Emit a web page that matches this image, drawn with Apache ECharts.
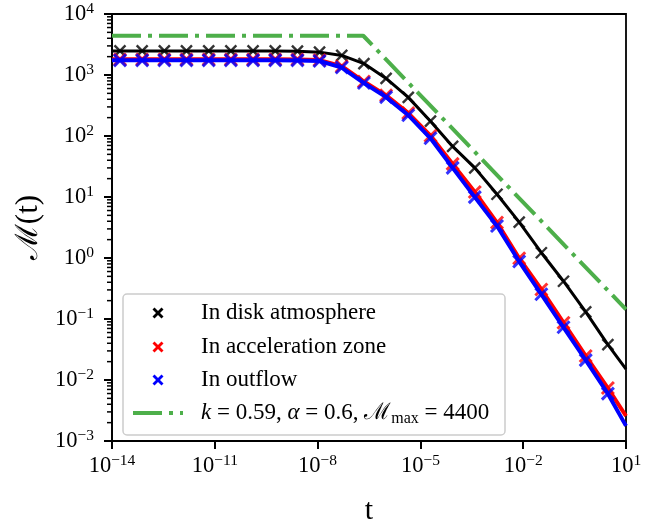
<!DOCTYPE html>
<html>
<head>
<meta charset="utf-8">
<script src="https://cdn.jsdelivr.net/npm/echarts@6/dist/echarts.min.js"></script>
<style>
html,body{margin:0;padding:0;background:#fff;}
#chart{width:660px;height:531px;}
</style>
</head>
<body>
<div id="chart"></div>
<script>
// ---- data ----
const tMarks = [1.71e-14, 7.59e-14, 3.37e-13, 1.49e-12, 6.64e-12, 2.94e-11, 1.31e-10, 5.80e-10,
  2.58e-9, 1.14e-8, 5.07e-8, 2.25e-7, 9.98e-7, 4.43e-6, 1.97e-5, 8.73e-5, 3.87e-4, 1.72e-3,
  7.64e-3, 3.39e-2, 0.150, 0.667, 2.96];
const tStart = 1e-14;
const tEnd = 10;

const diskMarks = [2480, 2480, 2480, 2480, 2480, 2480, 2480, 2480, 2460, 2370, 2094, 1538, 880,
  430, 175, 67.5, 30, 11.1, 3.88, 1.22, 0.416, 0.131, 0.038];
const diskStart = 2480, diskEnd = 0.0151;

const accMarks = [1804, 1804, 1804, 1804, 1804, 1804, 1804, 1804, 1800, 1758, 1391, 781, 464,
  237, 101, 34.9, 12.1, 3.81, 0.99, 0.305, 0.087, 0.0248, 0.00738];
const accStart = 1804, accEnd = 0.00257;

const outMarks = [1738, 1738, 1738, 1738, 1738, 1738, 1738, 1738, 1735, 1694, 1325, 738, 434,
  219, 91.8, 30, 9.95, 3.34, 0.875, 0.254, 0.0731, 0.0212, 0.00597];
const outStart = 1738, outEnd = 0.00177;

const modelT = [1e-14, 2.15e-7, 10];
const modelM = [4400, 4400, 0.144];

const seriesNames = ['In disk atmosphere', 'In acceleration zone', 'In outflow'];
const yDecades = [-3, -2, -1, 0, 1, 2, 3];
const minorMult = [2, 3, 4, 5, 6, 7, 8, 9];

// ---- helpers ----
const SERIF = '"Liberation Serif", "DejaVu Serif", serif';
function pairs(xs, ys) { return xs.map((x, i) => [x, ys[i]]); }
function lineData(start, marks, end) {
  return [[tStart, start]].concat(pairs(tMarks, marks)).concat([[tEnd, end]]);
}
function expLabel(v) {
  const e = Math.round(Math.log10(v));
  const s = e < 0 ? '\u2212' + Math.abs(e) : String(e);
  return '{b|10}{s|' + s + '}';
}
const richTick = {
  b: { fontFamily: SERIF, fontSize: 22.5, color: '#000', lineHeight: 26 },
  s: { fontFamily: SERIF, fontSize: 15.5, color: '#000', verticalAlign: 'top', lineHeight: 26, padding: [0, 0, 9, 0] }
};
const minorVals = [];
yDecades.forEach(d => minorMult.forEach(m => minorVals.push(m * Math.pow(10, d))));

const CROSS = 'path://M0,0L10,10M10,0L0,10';
const colors = ['#000000', '#ff0000', '#0000ff'];
const green = '#4daf4a';

const series = [];
const starts = [diskStart, accStart, outStart];
const ends = [diskEnd, accEnd, outEnd];
const marks = [diskMarks, accMarks, outMarks];
for (let k = 0; k < 3; k++) {
  series.push({
    type: 'line', name: seriesNames[k] + ' line', data: lineData(starts[k], marks[k], ends[k]),
    showSymbol: false, symbol: 'none', lineStyle: { color: colors[k], width: k === 0 ? 3 : 4 },
    z: 2 + 2 * k, animation: false, silent: true
  });
  series.push({
    type: 'scatter', name: seriesNames[k], data: pairs(tMarks, marks[k]),
    symbol: CROSS, symbolSize: k === 0 ? 11 : 12,
    itemStyle: { color: colors[k], borderColor: colors[k], borderWidth: k === 0 ? 2.4 : 3 },
    z: 3 + 2 * k, animation: false, silent: true
  });
}
series.push({
  type: 'line', name: 'model', data: pairs(modelT, modelM), symbol: 'none',
  lineStyle: { color: green, width: 4, type: [29, 7, 4, 7], cap: 'butt' }, z: 9, animation: false, silent: true
});

// legend (drawn with graphic elements)
const LX = 123, LY = 294, LW = 382, LH = 141;
const rowsY = [313, 347, 380, 413];
const FS = 23;
const legendEls = [{
  type: 'rect', shape: { x: LX, y: LY, width: LW, height: LH, r: 4 },
  style: { fill: 'rgba(255,255,255,0.85)', stroke: '#cccccc', lineWidth: 1.5 }, z: 100
}];
for (let k = 0; k < 3; k++) {
  const cx = 158, cy = rowsY[k], h = 4.5;
  legendEls.push({ type: 'line', shape: { x1: cx - h, y1: cy - h, x2: cx + h, y2: cy + h }, style: { stroke: colors[k], lineWidth: 2.8 }, z: 101 });
  legendEls.push({ type: 'line', shape: { x1: cx - h, y1: cy + h, x2: cx + h, y2: cy - h }, style: { stroke: colors[k], lineWidth: 2.8 }, z: 101 });
  legendEls.push({ type: 'text', x: 201, y: cy, style: { text: seriesNames[k], font: FS + 'px ' + SERIF, fill: '#000', verticalAlign: 'middle' }, z: 101 });
}
legendEls.push({ type: 'line', shape: { x1: 133, y1: rowsY[3], x2: 183, y2: rowsY[3] }, style: { stroke: green, lineWidth: 4, lineDash: [29, 7, 4, 7], lineCap: 'butt' }, z: 101 });
legendEls.push({
  type: 'text', x: 201, y: rowsY[3],
  style: {
    text: '{i|k} = 0.59, {i|\u03b1} = 0.6, {m|\u2133}{sub|max} = 4400',
    font: FS + 'px ' + SERIF, fill: '#000', verticalAlign: 'middle',
    rich: {
      i: { fontFamily: SERIF, fontSize: FS, fontStyle: 'italic', lineHeight: 28 },
      m: { fontFamily: SERIF, fontSize: FS, lineHeight: 28 },
      sub: { fontFamily: SERIF, fontSize: 16, verticalAlign: 'bottom', lineHeight: 28, padding: [7, 0, 0, 0] }
    }
  }, z: 101
});

const chart = echarts.init(document.getElementById('chart'), null, { renderer: 'canvas' });
chart.setOption({
  animation: false,
  backgroundColor: '#ffffff',
  grid: { left: 112, right: 34, top: 14, bottom: 84, show: true, borderColor: '#000', borderWidth: 1.8, backgroundColor: 'transparent' },
  xAxis: {
    type: 'log', logBase: 10, min: 1e-14, max: 10, interval: 3,
    name: 't', nameLocation: 'middle', nameGap: 55,
    nameTextStyle: { fontFamily: SERIF, fontSize: 30, color: '#000' },
    axisLine: { show: true, onZero: false, lineStyle: { color: '#000', width: 1.8 } },
    axisTick: { show: true, inside: false, length: 8, lineStyle: { color: '#000', width: 2 } },
    minorTick: { show: false },
    splitLine: { show: false },
    axisLabel: { margin: 12, formatter: expLabel, rich: richTick, showMinLabel: true, showMaxLabel: true, hideOverlap: false }
  },
  yAxis: {
    type: 'log', logBase: 10, min: 1e-3, max: 1e4, interval: 1,
    name: '\u2133(t)', nameLocation: 'middle', nameGap: 66, nameRotate: 90,
    nameTextStyle: { fontFamily: SERIF, fontSize: 31, color: '#000' },
    axisLine: { show: true, onZero: false, lineStyle: { color: '#000', width: 1.8 } },
    axisTick: { show: true, inside: false, length: 8, lineStyle: { color: '#000', width: 2 } },
    minorTick: { show: false },
    splitLine: { show: false },
    axisLabel: { margin: 18, formatter: expLabel, rich: richTick, showMinLabel: true, showMaxLabel: true, hideOverlap: false }
  },
  series: series,
  graphic: legendEls
});

// minor y ticks: positions obtained from the chart's own log scale
const minorEls = [];
minorVals.forEach(v => {
  const p = chart.convertToPixel({ xAxisIndex: 0, yAxisIndex: 0 }, [tStart, v]);
  if (p && isFinite(p[0]) && isFinite(p[1])) {
    minorEls.push({ type: 'line', shape: { x1: p[0] - 5, y1: p[1], x2: p[0], y2: p[1] }, style: { stroke: '#000', lineWidth: 1.5 }, z: 50, silent: true });
  }
});
chart.setOption({ graphic: legendEls.concat(minorEls) });
</script>
</body>
</html>
